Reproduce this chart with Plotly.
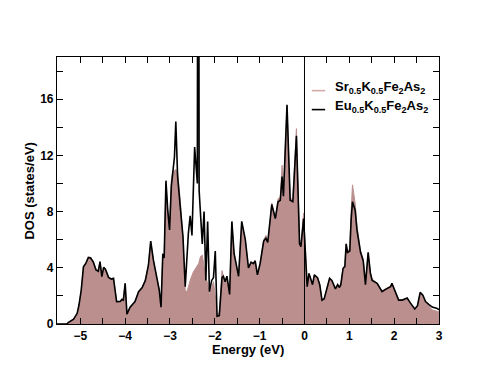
import plotly.graph_objects as go

# density of states
energy_eu = [-5.52, -5.30, -5.27, -5.15, -5.07, -5.03, -4.98, -4.93, -4.88, -4.82,
             -4.77, -4.71, -4.65, -4.60, -4.56, -4.52, -4.48, -4.44, -4.37, -4.31,
             -4.26, -4.22, -4.19, -4.11, -4.07, -4.04, -4.00, -3.96, -3.89, -3.78,
             -3.70, -3.62, -3.55, -3.48, -3.43, -3.37, -3.29, -3.24, -3.20, -3.16,
             -3.13, -3.09, -3.05, -3.01, -2.97, -2.94, -2.90, -2.87, -2.83, -2.77,
             -2.71, -2.66, -2.59, -2.55, -2.51, -2.45, -2.41, -2.39, -2.37, -2.35,
             -2.28, -2.24, -2.20, -2.16, -2.12, -2.07, -2.03, -1.99, -1.95, -1.90,
             -1.84, -1.81, -1.77, -1.73, -1.67, -1.62, -1.57, -1.47, -1.40, -1.32,
             -1.25, -1.19, -1.14, -1.10, -1.05, -0.99, -0.91, -0.86, -0.82, -0.76,
             -0.73, -0.65, -0.59, -0.54, -0.50, -0.47, -0.39, -0.32, -0.26, -0.18,
             -0.11, -0.08, -0.02, 0.06, 0.10, 0.14, 0.18, 0.22, 0.29, 0.34,
             0.39, 0.44, 0.50, 0.56, 0.61, 0.69, 0.74, 0.78, 0.81, 0.86,
             0.90, 0.93, 0.96, 1.01, 1.04, 1.07, 1.13, 1.17, 1.25, 1.31,
             1.36, 1.42, 1.47, 1.51, 1.62, 1.73, 1.80, 1.92, 1.95, 2.03,
             2.10, 2.18, 2.29, 2.36, 2.46, 2.52, 2.58, 2.64, 2.70, 2.77,
             2.85, 2.96, 3.01]
dos_eu = [0.0, 0.0, 0.1, 0.35, 0.76, 1.35, 2.4, 4.07, 4.3, 4.74,
          4.7, 4.4, 3.84, 3.75, 4.43, 3.37, 4.03, 3.9, 3.32, 3.2,
          3.25, 2.18, 1.59, 1.6, 1.76, 1.7, 2.9, 0.7, 1.2, 1.6,
          2.3, 2.6, 3.1, 4.2, 5.9, 4.55, 3.37, 2.42, 1.2, 5.0,
          4.7, 10.2, 8.1, 6.7, 9.8, 10.7, 11.9, 14.4, 10.5, 8.3,
          6.2, 2.65, 6.45, 7.7, 6.3, 12.6, 10.2, 10.0, 60.0, 9.5,
          5.7, 8.0, 3.1, 7.3, 2.3, 3.1, 3.3, 5.2, 0.55, 0.6,
          3.3, 3.4, 3.0, 3.4, 2.1, 7.3, 5.0, 3.4, 7.3, 6.0,
          4.0, 4.4, 4.3, 4.5, 3.5, 4.3, 5.9, 6.1, 5.8, 7.4,
          8.5, 7.5, 8.7, 8.8, 10.5, 9.1, 15.6, 8.8, 8.7, 13.4,
          5.7, 5.5, 7.5, 2.65, 3.6, 3.2, 2.8, 3.5, 3.3, 2.8,
          1.7, 1.8, 2.6, 3.25, 3.1, 2.5, 2.8, 2.6, 2.8, 3.95,
          4.1, 5.7, 5.1, 5.2, 7.4, 8.7, 8.1, 6.7, 5.1, 4.5,
          2.8, 5.1, 3.6, 3.1, 2.9, 2.3, 2.45, 2.65, 2.9, 2.3,
          1.7, 1.7, 1.85, 1.5, 1.07, 1.3, 2.25, 2.05, 1.6, 1.4,
          1.2, 1.1, 1.0]

energy_sr = [-5.52, -5.30, -5.27, -5.15, -5.07, -5.03, -4.98, -4.93, -4.88, -4.82,
             -4.77, -4.71, -4.65, -4.60, -4.56, -4.52, -4.48, -4.44, -4.37, -4.31,
             -4.26, -4.22, -4.19, -4.11, -4.07, -4.04, -4.00, -3.96, -3.89, -3.78,
             -3.70, -3.62, -3.55, -3.48, -3.43, -3.37, -3.29, -3.24, -3.20, -3.16,
             -3.13, -3.09, -3.05, -3.01, -2.97, -2.94, -2.90, -2.87, -2.83, -2.77,
             -2.71, -2.66, -2.62, -2.55, -2.48, -2.41, -2.36, -2.32, -2.28, -2.24,
             -2.20, -2.16, -2.12, -2.07, -2.03, -1.99, -1.95, -1.90, -1.84, -1.81,
             -1.77, -1.73, -1.67, -1.62, -1.57, -1.47, -1.40, -1.32, -1.25, -1.19,
             -1.14, -1.10, -1.05, -0.99, -0.91, -0.86, -0.82, -0.76, -0.73, -0.65,
             -0.59, -0.54, -0.50, -0.47, -0.39, -0.32, -0.26, -0.18, -0.11, -0.08,
             -0.02, 0.06, 0.10, 0.14, 0.18, 0.22, 0.29, 0.34, 0.39, 0.44,
             0.50, 0.56, 0.61, 0.69, 0.74, 0.78, 0.81, 0.86, 0.90, 0.93,
             0.96, 1.01, 1.04, 1.07, 1.13, 1.17, 1.25, 1.31, 1.36, 1.42,
             1.47, 1.51, 1.62, 1.73, 1.80, 1.92, 1.95, 2.03, 2.10, 2.18,
             2.29, 2.36, 2.46, 2.52, 2.58, 2.64, 2.70, 2.77, 2.85, 2.96,
             3.01]
dos_sr = [0.0, 0.0, 0.1, 0.35, 0.76, 1.35, 2.4, 4.07, 4.3, 4.74,
          4.75, 4.45, 3.9, 3.8, 4.45, 3.4, 4.05, 3.9, 3.35, 3.2,
          3.25, 2.2, 1.6, 1.6, 1.76, 1.7, 2.9, 0.75, 1.2, 1.6,
          2.3, 2.6, 3.1, 4.2, 5.9, 4.55, 3.37, 2.42, 1.2, 5.0,
          4.7, 10.0, 8.0, 7.0, 10.2, 10.9, 10.9, 11.0, 10.8, 8.8,
          6.0, 2.4, 2.3, 3.1, 3.7, 4.1, 4.3, 4.8, 4.9, 4.1,
          3.3, 2.9, 2.1, 2.6, 3.0, 2.0, 0.7, 0.8, 3.8, 3.4,
          3.0, 3.4, 2.2, 7.2, 5.0, 3.4, 7.2, 6.0, 4.0, 4.4,
          4.3, 4.5, 3.6, 4.3, 6.0, 6.3, 5.9, 7.5, 8.6, 7.6,
          8.9, 9.0, 11.3, 9.3, 15.5, 9.0, 8.8, 13.9, 5.9, 5.6,
          7.9, 2.65, 3.6, 3.2, 2.8, 3.5, 3.3, 2.8, 1.7, 1.8,
          2.6, 3.25, 3.1, 2.5, 2.8, 2.6, 2.8, 3.95, 4.1, 5.7,
          5.1, 5.4, 8.0, 9.9, 8.6, 7.0, 5.2, 4.6, 2.9, 5.0,
          3.7, 3.2, 2.9, 2.35, 2.5, 2.7, 2.9, 2.3, 1.75, 1.7,
          1.8, 1.5, 1.05, 1.3, 2.2, 2.0, 1.5, 1.3, 1.0, 0.9,
          0.85]

x_ticks = [-5, -4, -3, -2, -1, 0, 1, 2, 3]
y_ticks = [0, 4, 8, 12, 16]

label_sr = "Sr<sub>0.5</sub>K<sub>0.5</sub>Fe<sub>2</sub>As<sub>2</sub>"
label_eu = "Eu<sub>0.5</sub>K<sub>0.5</sub>Fe<sub>2</sub>As<sub>2</sub>"

fill_col = "#bc8f8f"
font_fam = "Liberation Sans, Arial, Helvetica, sans-serif"
title_font = dict(family=font_fam, size=13, color="black", weight="bold")

fig = go.Figure()
fig.add_trace(go.Scatter(x=energy_sr, y=dos_sr, mode="lines", fill="tozeroy",
                         fillcolor=fill_col, line=dict(color=fill_col, width=1),
                         name=label_sr, showlegend=False))
fig.add_trace(go.Scatter(x=energy_eu, y=dos_eu, mode="lines",
                         line=dict(color="black", width=1.6),
                         name=label_eu, showlegend=False))

# Fermi level
fig.add_shape(type="line", xref="x", yref="paper", x0=0, x1=0, y0=0, y1=1,
              line=dict(color="black", width=1))

# hand-made legend (short line symbols, as in the original)
legend_rows = [(label_sr, "#d2aaaa", 0.874, 0.886), (label_eu, "black", 0.803, 0.816)]
for txt, col, yl, yt in legend_rows:
    fig.add_shape(type="line", xref="paper", yref="paper", x0=0.667, x1=0.702,
                  y0=yl, y1=yl, line=dict(color=col, width=1.6))
    fig.add_annotation(xref="paper", yref="paper", x=0.722, y=yt, text=txt,
                       showarrow=False, xanchor="left", yanchor="middle",
                       font=dict(family=font_fam, size=13, color="black", weight="bold"))

# axis titles placed by hand, tighter than plotly's automatic spacing
fig.add_annotation(xref="paper", yref="paper", x=0.5, y=-0.094, text="Energy (eV)",
                   showarrow=False, xanchor="center", yanchor="middle", font=title_font)
fig.add_annotation(xref="paper", yref="paper", x=-0.073, y=0.5, text="DOS (states/eV)",
                   textangle=-90, showarrow=False, xanchor="center", yanchor="middle",
                   font=title_font)

axis_common = dict(showline=True, linecolor="black", linewidth=1.2, mirror="ticks",
                   ticks="inside", ticklen=6, tickwidth=1, tickcolor="black",
                   showgrid=False, zeroline=False,
                   tickfont=dict(family=font_fam, size=12, color="black", weight="bold"))

fig.update_xaxes(range=[-5.52, 3.0], tickvals=x_ticks,
                 minor=dict(dtick=0.5, tick0=0, ticks="inside", ticklen=6, tickcolor="black"),
                 **axis_common)
fig.update_yaxes(range=[0, 19], tickvals=y_ticks,
                 minor=dict(dtick=2, tick0=0, ticks="inside", ticklen=6, tickcolor="black"),
                 **axis_common)

# the page body adds an 8 px offset, so the figure is a little smaller than the window
fig.update_layout(width=486, height=374, plot_bgcolor="white", paper_bgcolor="white",
                  margin=dict(l=49, r=55, t=49, b=58), showlegend=False)

fig.write_html("out.html")
